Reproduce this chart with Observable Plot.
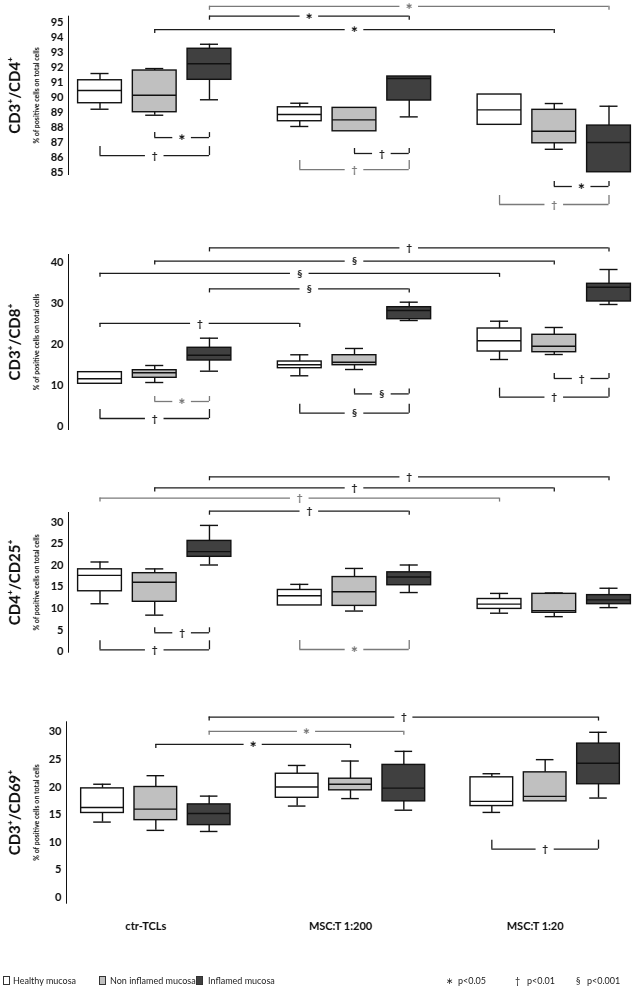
<!DOCTYPE html>
<html><head><meta charset="utf-8">
<script src="https://cdn.jsdelivr.net/npm/d3@7"></script>
<script src="https://cdn.jsdelivr.net/npm/@observablehq/plot@0.6"></script>
<style>
body{margin:0;background:#fff;font-family:Lato,"Open Sans","DejaVu Sans",sans-serif;}
#chart{position:relative;width:637px;height:992px;overflow:hidden;filter:grayscale(1);}
#chart svg{display:block;}
#legend{position:relative;width:637px;height:52px;font-size:9px;color:#222;}
#legend span{position:absolute;top:35px;line-height:12px;white-space:nowrap;}
#legend i{position:absolute;top:36px;width:7px;height:9px;border:1px solid #333;box-sizing:border-box;}
</style></head><body><div id="chart"></div>
<script>
// ---------- data ----------
const groups = ["ctr-TCLs", "MSC:T 1:200", "MSC:T 1:20"];
const tissues = ["Healthy mucosa", "Non inflamed mucosa", "Inflamed mucosa"];
const tissueFill = ["#ffffff", "#c0c0c0", "#404040"];
const panelTitles = ["CD3⁺/CD4⁺", "CD3⁺/CD8⁺", "CD4⁺/CD25⁺", "CD3⁺/CD69⁺"];
const yAxisNote = "% of positive cells on total cells";
const sigSymbols = ["∗", "†", "§"];
const sigLabels = ["p<0.05", "p<0.01", "p<0.001"];

const cd4Ticks = [85, 86, 87, 88, 89, 90, 91, 92, 93, 94, 95];
const cd8Ticks = [0, 10, 20, 30, 40];
const cd25Ticks = [0, 5, 10, 15, 20, 25, 30];
const cd69Ticks = [0, 5, 10, 15, 20, 25, 30];

// box order: group-major (ctr, 1:200, 1:20) x tissue (healthy, non inflamed, inflamed)
// each: [whisker low, Q1, median, Q3, whisker high]
const cd4Stats = [
  [89.22, 89.62, 90.47, 91.15, 91.6], [88.82, 89.02, 90.15, 91.8, 91.93], [89.85, 91.18, 92.25, 93.25, 93.55],
  [88.07, 88.42, 88.87, 89.35, 89.62], [87.75, 87.75, 88.51, 89.31, 89.31], [88.71, 89.8, 91.27, 91.4, 91.4],
  [88.18, 88.18, 89.18, 90.2, 90.2], [86.55, 86.95, 87.75, 89.18, 89.6], [85.02, 85.02, 87.0, 88.13, 89.42]
];
const cd8Stats = [
  [10.37, 10.37, 11.6, 13.2, 13.2], [10.68, 11.83, 13.05, 13.68, 14.83], [13.44, 16.05, 17.34, 19.15, 21.49],
  [12.32, 14.17, 15.0, 15.8, 17.44], [13.85, 14.9, 15.63, 17.34, 18.98], [25.8, 26.12, 28.24, 29.05, 30.27],
  [16.29, 18.24, 20.85, 23.85, 25.63], [17.51, 18.07, 19.54, 22.32, 24.1], [29.71, 30.44, 33.93, 34.76, 38.24]
];
const cd25Stats = [
  [11.1, 14.0, 17.7, 19.1, 20.8], [8.45, 11.55, 16.1, 18.2, 19.2], [20.1, 22.0, 23.2, 25.7, 29.3],
  [10.7, 10.7, 12.95, 14.3, 15.6], [9.4, 10.6, 13.9, 17.3, 19.3], [13.7, 15.4, 17.3, 18.4, 20.1],
  [8.9, 9.9, 11.0, 12.2, 13.5], [8.1, 9.0, 9.5, 13.4, 13.6], [10.2, 11.0, 12.0, 13.1, 14.7]
];
const cd69Stats = [
  [13.65, 15.3, 16.3, 19.75, 20.5], [12.15, 14.0, 16.0, 20.0, 22.05], [11.95, 13.1, 15.2, 16.85, 18.35],
  [16.55, 18.05, 20.0, 22.4, 23.9], [17.9, 19.4, 20.5, 21.5, 24.7], [15.8, 17.4, 19.8, 24.0, 26.45],
  [15.4, 16.55, 17.4, 21.75, 22.4], [17.4, 17.4, 18.3, 22.65, 24.95], [18.0, 20.5, 24.3, 27.85, 29.9]
];

// significance brackets: [from box, to box, y value, symbol index, shade (k/g), side (a=above, b=below)]
const cd4Brackets = [
  [2, 8, 96.08, 0, "g", "a"], [2, 5, 95.42, 0, "k", "a"], [1, 7, 94.53, 0, "k", "a"],
  [1, 2, 87.33, 0, "k", "b"], [0, 2, 86.13, 1, "k", "b"], [4, 5, 86.27, 1, "k", "b"],
  [3, 5, 85.2, 1, "g", "b"], [7, 8, 84.07, 0, "k", "b"], [6, 8, 82.87, 1, "g", "b"]
];
const cd8Brackets = [
  [2, 8, 43.5, 1, "k", "a"], [1, 7, 40.3, 2, "k", "a"], [0, 6, 37.3, 2, "k", "a"],
  [2, 5, 33.5, 2, "k", "a"], [0, 3, 25.1, 1, "k", "a"],
  [1, 2, 6.05, 0, "g", "b"], [0, 2, 1.9, 1, "k", "b"], [4, 5, 7.9, 2, "k", "b"],
  [3, 5, 3.2, 2, "k", "b"], [7, 8, 11.66, 1, "k", "b"], [6, 8, 7.1, 1, "k", "b"]
];
const cd25Brackets = [
  [2, 8, 40.6, 1, "k", "a"], [1, 7, 38.0, 1, "k", "a"], [0, 6, 35.65, 1, "g", "a"], [2, 5, 32.6, 1, "k", "a"],
  [1, 2, 4.35, 1, "k", "b"], [0, 2, 0.4, 1, "k", "b"], [3, 5, 0.47, 0, "g", "b"]
];
const cd69Brackets = [
  [2, 8, 32.66, 1, "k", "a"], [2, 5, 30.07, 0, "g", "a"], [1, 4, 27.7, 0, "k", "a"],
  [6, 8, 8.75, 1, "k", "b"]
];

// ---------- layout ----------
const G = 3.65;               // group spacing in box units
const pos = i => Math.floor(i / 3) * G + (i % 3);
const halfBox = 0.4, halfCap = 0.165, halfGap = 0.17;
const shades = {k: "#1c1c1c", g: "#7a7a7a"};
const font = 'Lato, "Open Sans", "DejaVu Sans", sans-serif';

const panels = [
  {title: panelTitles[0], stats: cd4Stats, brackets: cd4Brackets, ticks: cd4Ticks,
   height: 240, domain: [84.87, 95.42], top: 15.7, bottom: 174, left: 68, xRange: [99.5, 608.5]},
  {title: panelTitles[1], stats: cd8Stats, brackets: cd8Brackets, ticks: cd8Ticks,
   height: 200, domain: [-0.78, 41.9], top: 14, bottom: 189, left: 68, xRange: [99.5, 608.5]},
  {title: panelTitles[2], stats: cd25Stats, brackets: cd25Brackets, ticks: cd25Ticks,
   height: 230, domain: [-0.16, 32.3], top: 72, bottom: 211.7, left: 68, xRange: [99.5, 608.5]},
  {title: panelTitles[3], stats: cd69Stats, brackets: cd69Brackets, ticks: cd69Ticks,
   height: 270, domain: [-1.03, 31.8], top: 51.3, bottom: 232.7, left: 66, xRange: [102, 598], groupLabels: true}
];

function makePanel(p) {
  const pxPerUnit = (p.bottom - p.top) / (p.domain[1] - p.domain[0]);
  const boxes = p.stats.map(([lo, q1, med, q3, hi], i) => ({
    i, g: Math.floor(i / 3), s: i % 3, x: pos(i), lo, q1, med, q3, hi, fill: tissueFill[i % 3]
  }));
  const segs = [], ticks = [], labels = [];
  for (const [from, to, y, sym, shade, side] of p.brackets) {
    const x1 = pos(from), x2 = pos(to), mid = (x1 + x2) / 2, c = shades[shade];
    segs.push({x1, x2: mid - halfGap, y, c}, {x1: mid + halfGap, x2, y, c});
    const len = side === "a" ? -4 : (to - from === 1 ? 5 : 9);
    const y2 = y + len / pxPerUnit;
    ticks.push({x: x1, y1: y, y2, c}, {x: x2, y1: y, y2, c});
    labels.push({x: mid, y, t: sigSymbols[sym], c, fs: sym === 0 ? 9 : 10});
  }
  const marks = [
    Plot.ruleX(boxes.filter(d => d.hi > d.q3), {x: "x", y1: "q3", y2: "hi", stroke: "#111", strokeWidth: 1.4}),
    Plot.ruleX(boxes.filter(d => d.lo < d.q1), {x: "x", y1: "lo", y2: "q1", stroke: "#111", strokeWidth: 1.4}),
    Plot.ruleY(boxes.filter(d => d.hi > d.q3), {y: "hi", x1: d => d.x - halfCap, x2: d => d.x + halfCap, stroke: "#111", strokeWidth: 1.4}),
    Plot.ruleY(boxes.filter(d => d.lo < d.q1), {y: "lo", x1: d => d.x - halfCap, x2: d => d.x + halfCap, stroke: "#111", strokeWidth: 1.4}),
    Plot.rect(boxes, {x1: d => d.x - halfBox, x2: d => d.x + halfBox, y1: "q1", y2: "q3", fill: "fill", stroke: "#111", strokeWidth: 1.4}),
    Plot.ruleY(boxes, {y: "med", x1: d => d.x - halfBox, x2: d => d.x + halfBox, stroke: "#111", strokeWidth: 1.4}),
    Plot.ruleY(segs, {y: "y", x1: "x1", x2: "x2", stroke: "c", strokeWidth: 1.3}),
    Plot.ruleX(ticks, {x: "x", y1: "y1", y2: "y2", stroke: "c", strokeWidth: 1.3}),
    Plot.text(labels, {x: "x", y: "y", text: "t", fill: "c", fontSize: "fs", fontWeight: "bold", lineAnchor: "middle"}),
    Plot.text([p.title], {frameAnchor: "left", dx: -(p.left - 15), rotate: -90, textAnchor: "middle", lineAnchor: "middle",
      fontSize: 15, fontWeight: "bold", fill: "#111"}),
    Plot.text([yAxisNote], {frameAnchor: "left", dx: -(p.left - 36), rotate: -90, textAnchor: "middle", lineAnchor: "middle",
      fontSize: 7, fontWeight: "bold", fill: "#111"})
  ];
  if (p.groupLabels) {
    marks.push(Plot.text(groups, {x: (d, i) => i * G + 1, frameAnchor: "bottom", dy: 23, dx: -10,
      lineAnchor: "middle", fontSize: 11, fontWeight: "bold", fill: "#111"}));
  }
  return Plot.plot({
    width: 637, height: p.height,
    marginLeft: p.left, marginRight: 0, marginTop: p.top, marginBottom: p.height - p.bottom,
    style: {fontFamily: font, fontSize: "11px", fontWeight: "bold", color: "#111", background: "white"},
    x: {domain: [0, 2 * G + 2], range: p.xRange, axis: null},
    y: {domain: p.domain, ticks: p.ticks, tickSize: 0, tickPadding: 5, line: true, label: null, tickFormat: d => d},
    color: {type: "identity"},
    marks
  });
}

const chart = document.getElementById("chart");
for (const p of panels) chart.appendChild(makePanel(p));

// legend
const legend = document.createElement("div");
legend.id = "legend";
const swatchLeft = [3, 99, 196], textLeft = [13, 110, 208];
tissues.forEach((t, i) => {
  const sw = document.createElement("i");
  sw.style.left = swatchLeft[i] + "px";
  sw.style.background = tissueFill[i];
  legend.appendChild(sw);
  const s = document.createElement("span");
  s.style.left = textLeft[i] + "px";
  s.textContent = t;
  legend.appendChild(s);
});
const symLeft = [446, 515, 576], sigLeft = [458, 527, 587];
sigLabels.forEach((t, i) => {
  const a = document.createElement("span");
  a.style.left = symLeft[i] + "px";
  a.textContent = sigSymbols[i];
  legend.appendChild(a);
  const b = document.createElement("span");
  b.style.left = sigLeft[i] + "px";
  b.textContent = t;
  legend.appendChild(b);
});
chart.appendChild(legend);
</script></body></html>
